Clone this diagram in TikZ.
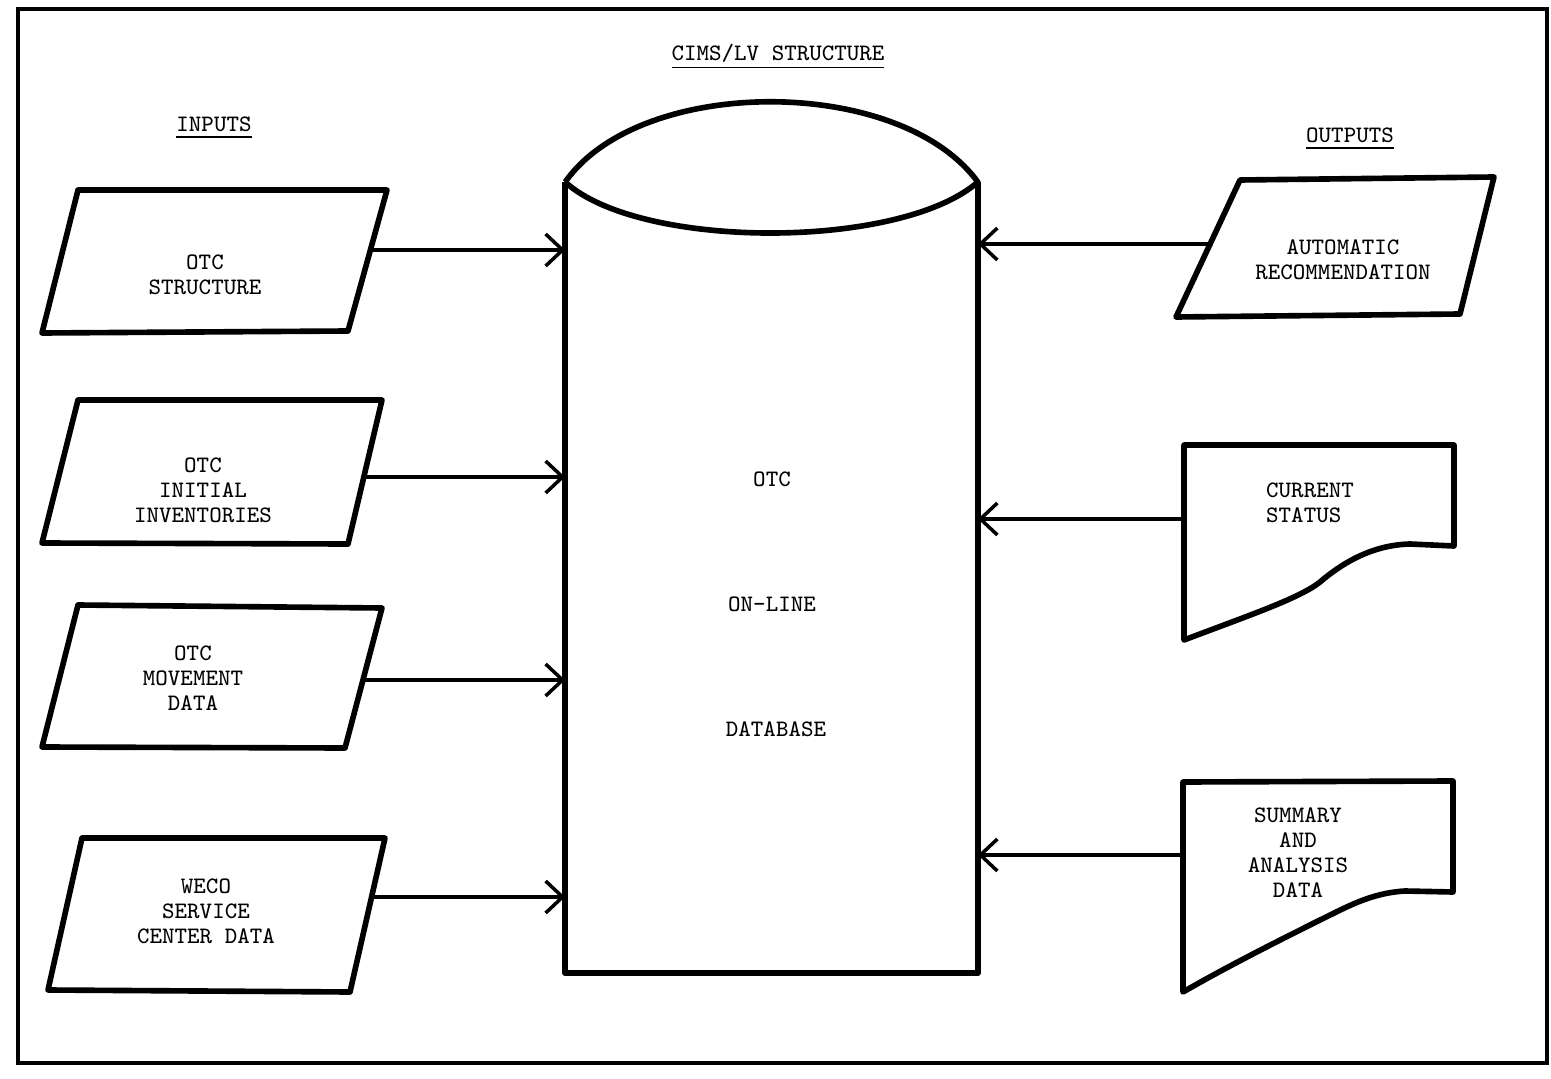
\documentclass[tikz,border=0pt]{standalone}
\usepackage{tikz}
\usetikzlibrary{arrows.meta}

\begin{document}
\begin{tikzpicture}[
  x=0.01cm, y=-0.01cm,
  font=\ttfamily\fontsize{6.7}{7.1}\selectfont,
  box/.style={draw, line width=1.6pt, line join=round},
  label/.style={align=center},
  flow/.style={-{Straight Barb[length=1.7mm, width=3.2mm]}, line width=1pt},
  heading/.style={inner sep=0pt}
]
\useasboundingbox (0,0) rectangle (1551,1079);
\draw[line width=1.2pt] (18,9) rectangle (1547,1063);

% headings
\node[heading] (title) at (778,57) {\underline{CIMS/LV STRUCTURE}};
\node[heading] (inputs) at (214,128) {\underline{INPUTS}};
\node[heading] (outputs) at (1350,139) {\underline{OUTPUTS}};

% database
\node[minimum width=4.11cm, minimum height=7.89cm] (db) at (771.5,577.5) {};
\draw[box] (db.north west) -- (db.south west) -- (db.south east) -- (db.north east);
\draw[box] (db.north west) .. controls (640,75) and (900,75) .. (db.north east)
  .. controls (900,250) and (640,250) .. (db.north west);
\node (dbotc) at (772,479) {OTC};
\node (dbline) at (772,604) {ON-LINE};
\node (dbbase) at (776,729) {DATABASE};

% inputs
\draw[box] (78,190) -- (387,190) -- (348,331) -- (42,333) -- cycle;
\node[label] (otcs) at (205,275) {OTC\\STRUCTURE};
\coordinate (otcsout) at (371,250);

\draw[box] (78,400) -- (382,400) -- (348,544) -- (42,543) -- cycle;
\node[label] (otci) at (203,490) {OTC\\INITIAL\\INVENTORIES};
\coordinate (otciout) at (364,477);

\draw[box] (78,605) -- (382,608) -- (345,748) -- (42,747) -- cycle;
\node[label] (otcm) at (193,678) {OTC\\MOVEMENT\\DATA};
\coordinate (otcmout) at (363,680);

\draw[box] (82,838) -- (385,838) -- (350,992) -- (48,990) -- cycle;
\node[label] (weco) at (206,911) {WECO\\SERVICE\\CENTER DATA};
\coordinate (wecoout) at (372,897);

\foreach \n in {otcsout, otciout, otcmout, wecoout}
  \draw[flow] (\n) -- (\n -| db.west);

% outputs
\draw[box] (1240,180) -- (1494,177) -- (1460,314) -- (1176,317) -- cycle;
\node[label] (auto) at (1343,260) {AUTOMATIC\\RECOMMENDATION};
\coordinate (autow) at (1210,244);

\draw[box] (1184,445) -- (1454,445) -- (1454,546) -- (1410,544)
  .. controls (1370,545) and (1340,565) .. (1320,582)
  .. controls (1300,598) and (1250,615) .. (1184,640) -- cycle;
\node[align=left] (status) at (1310,503) {CURRENT\\STATUS};
\coordinate (statusw) at (1184,519);

\draw[box] (1183,782) -- (1453,781) -- (1453,892) -- (1405,891)
  .. controls (1370,893) and (1345,908) .. (1320,920)
  .. controls (1280,940) and (1230,965) .. (1183,992) -- cycle;
\node[label] (summary) at (1298,853) {SUMMARY\\AND\\ANALYSIS\\DATA};
\coordinate (summaryw) at (1183,855);

\foreach \n in {autow, statusw, summaryw}
  \draw[flow] (\n) -- (\n -| db.east);
\end{tikzpicture}
\end{document}
